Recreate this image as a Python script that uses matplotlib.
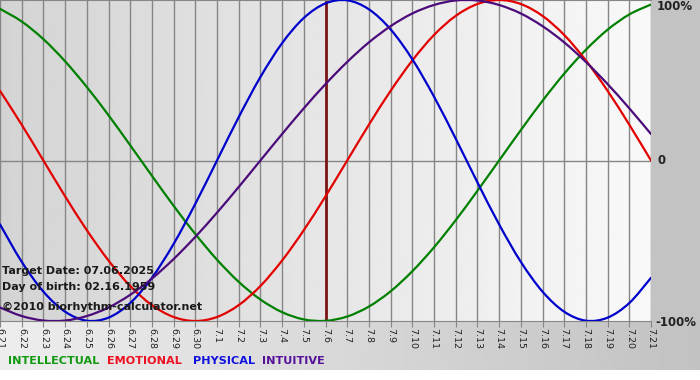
import matplotlib
matplotlib.use("Agg")
import matplotlib.pyplot as plt
from matplotlib.path import Path
from matplotlib.patches import PathPatch
import numpy as np

dates = ["6.21", "6.22", "6.23", "6.24", "6.25", "6.26", "6.27", "6.28", "6.29", "6.30",
         "7.1", "7.2", "7.3", "7.4", "7.5", "7.6", "7.7", "7.8", "7.9", "7.10",
         "7.11", "7.12", "7.13", "7.14", "7.15", "7.16", "7.17", "7.18", "7.19", "7.20", "7.21"]

physical = [-0.398, -0.631, -0.817, -0.942, -0.998, -0.979, -0.888, -0.731, -0.520, -0.270,
            0.000, 0.270, 0.520, 0.731, 0.888, 0.979, 0.998, 0.942, 0.817, 0.631,
            0.398, 0.136, -0.136, -0.398, -0.631, -0.817, -0.942, -0.998, -0.979, -0.888, -0.731]

emotional = [0.434, 0.223, 0.000, -0.223, -0.434, -0.623, -0.782, -0.901, -0.975, -1.000,
             -0.975, -0.901, -0.782, -0.623, -0.434, -0.223, 0.000, 0.223, 0.434, 0.623,
             0.782, 0.901, 0.975, 1.000, 0.975, 0.901, 0.782, 0.623, 0.434, 0.223, 0.000]

intellectual = [0.945, 0.866, 0.756, 0.618, 0.458, 0.282, 0.095, -0.095, -0.282, -0.458,
                -0.618, -0.756, -0.866, -0.945, -0.990, -0.999, -0.972, -0.910, -0.815, -0.690,
                -0.541, -0.372, -0.189, 0.000, 0.189, 0.372, 0.541, 0.690, 0.815, 0.910, 0.972]

intuitive = [-0.916, -0.969, -0.997, -0.997, -0.969, -0.916, -0.837, -0.736, -0.614, -0.476,
             -0.325, -0.165, 0.000, 0.165, 0.325, 0.476, 0.614, 0.736, 0.837, 0.916,
             0.969, 0.997, 0.997, 0.969, 0.916, 0.837, 0.736, 0.614, 0.476, 0.325, 0.165]

target_date = "7.6"
y_labels = ["100%", "0", "-100%"]

W, H = 700, 380
fig = plt.figure(figsize=(W / 100, H / 100), dpi=100, facecolor="white")

# background layer in pixel coordinates
bg = fig.add_axes([0, 0, 1, 1])
bg.set_xlim(0, W)
bg.set_ylim(H, 0)
bg.axis("off")
strip = np.linspace(0.93, 0.76, 256)[None, :]
bg.imshow(strip, cmap="gray", vmin=0, vmax=1, extent=(0, W, 370, 321), aspect="auto")
bg.add_patch(plt.Rectangle((651, 0), W - 651, 321, color="#c3c3c3", lw=0))

# plot area
px0, px1, py0, py1 = 0, 651, 0, 321
ax = fig.add_axes([px0 / W, 1 - py1 / H, (px1 - px0) / W, (py1 - py0) / H])
ax.set_facecolor("none")
x = np.arange(len(dates))
ax.set_xlim(0, len(dates) - 1)
ax.set_ylim(-1, 1)
grad = np.linspace(0.83, 0.975, 256)[None, :]
ax.imshow(grad, cmap="gray", vmin=0, vmax=1, extent=(0, len(dates) - 1, -1, 1),
          aspect="auto", zorder=0)

for xi in x:
    ax.axvline(xi, color="#868686", lw=1.0, zorder=1)
ax.axhline(0, color="#868686", lw=1.0, zorder=1)

ti = dates.index(target_date)
ax.axvline(ti, color="#7a1515", lw=2.0, zorder=2)


def smooth_line(ax, xs, ys, color):
    """Draw a curve through the data points using Bezier segments (Catmull-Rom)."""
    xs = np.asarray(xs, float)
    ys = np.asarray(ys, float)
    n = len(xs)
    verts = [(xs[0], ys[0])]
    codes = [Path.MOVETO]
    for i in range(n - 1):
        p0 = np.array([xs[max(i - 1, 0)], ys[max(i - 1, 0)]])
        p1 = np.array([xs[i], ys[i]])
        p2 = np.array([xs[i + 1], ys[i + 1]])
        p3 = np.array([xs[min(i + 2, n - 1)], ys[min(i + 2, n - 1)]])
        c1 = p1 + (p2 - p0) / 6.0
        c2 = p2 - (p3 - p1) / 6.0
        verts += [tuple(c1), tuple(c2), tuple(p2)]
        codes += [Path.CURVE4] * 3
    patch = PathPatch(Path(verts, codes), fill=False, edgecolor=color, lw=1.6,
                      zorder=3, capstyle="round", joinstyle="round")
    ax.add_patch(patch)


smooth_line(ax, x, intellectual, "#008000")
smooth_line(ax, x, emotional, "#e30000")
smooth_line(ax, x, physical, "#0000cc")
smooth_line(ax, x, intuitive, "#4b0b7a")

for s in ["left", "right"]:
    ax.spines[s].set_visible(False)
ax.spines["top"].set_color("#868686")
ax.spines["bottom"].set_color("#868686")
ax.set_yticks([])
ax.set_xticks(x)
ax.set_xticklabels(dates, rotation=-90, fontsize=6.8, color="#222222",
                   family="DejaVu Sans")
ax.tick_params(axis="x", direction="out", length=4, color="#868686", pad=1)

# right-side y labels
fig.text(657 / W, 1 - 7 / H, y_labels[0], fontsize=8.5, fontweight="bold",
         color="#222222", va="center", ha="left")
fig.text(658 / W, 1 - 161 / H, y_labels[1], fontsize=8.5, fontweight="bold",
         color="#222222", va="center", ha="left")
fig.text(655 / W, 1 - 322 / H, y_labels[2], fontsize=8.5, fontweight="bold",
         color="#222222", va="center", ha="left")

info = [("Target Date: 07.06.2025", 271), ("Day of birth: 02.16.1959", 287),
        ("\u00a92010 biorhythm-calculator.net", 307)]
for txt, yy in info:
    fig.text(2 / W, 1 - yy / H, txt, fontsize=8.0, fontweight="bold",
             color="#1a1a1a", va="center", ha="left", zorder=10)

legend = [("INTELLECTUAL", "#119911", 8), ("EMOTIONAL", "#ee1122", 107),
          ("PHYSICAL", "#1111dd", 193), ("INTUITIVE", "#551199", 262)]
for name, col, xx in legend:
    fig.text(xx / W, 1 - 361 / H, name, fontsize=8.1, fontweight="bold",
             color=col, va="center", ha="left")

fig.savefig("out.png", dpi=100, facecolor="white")
